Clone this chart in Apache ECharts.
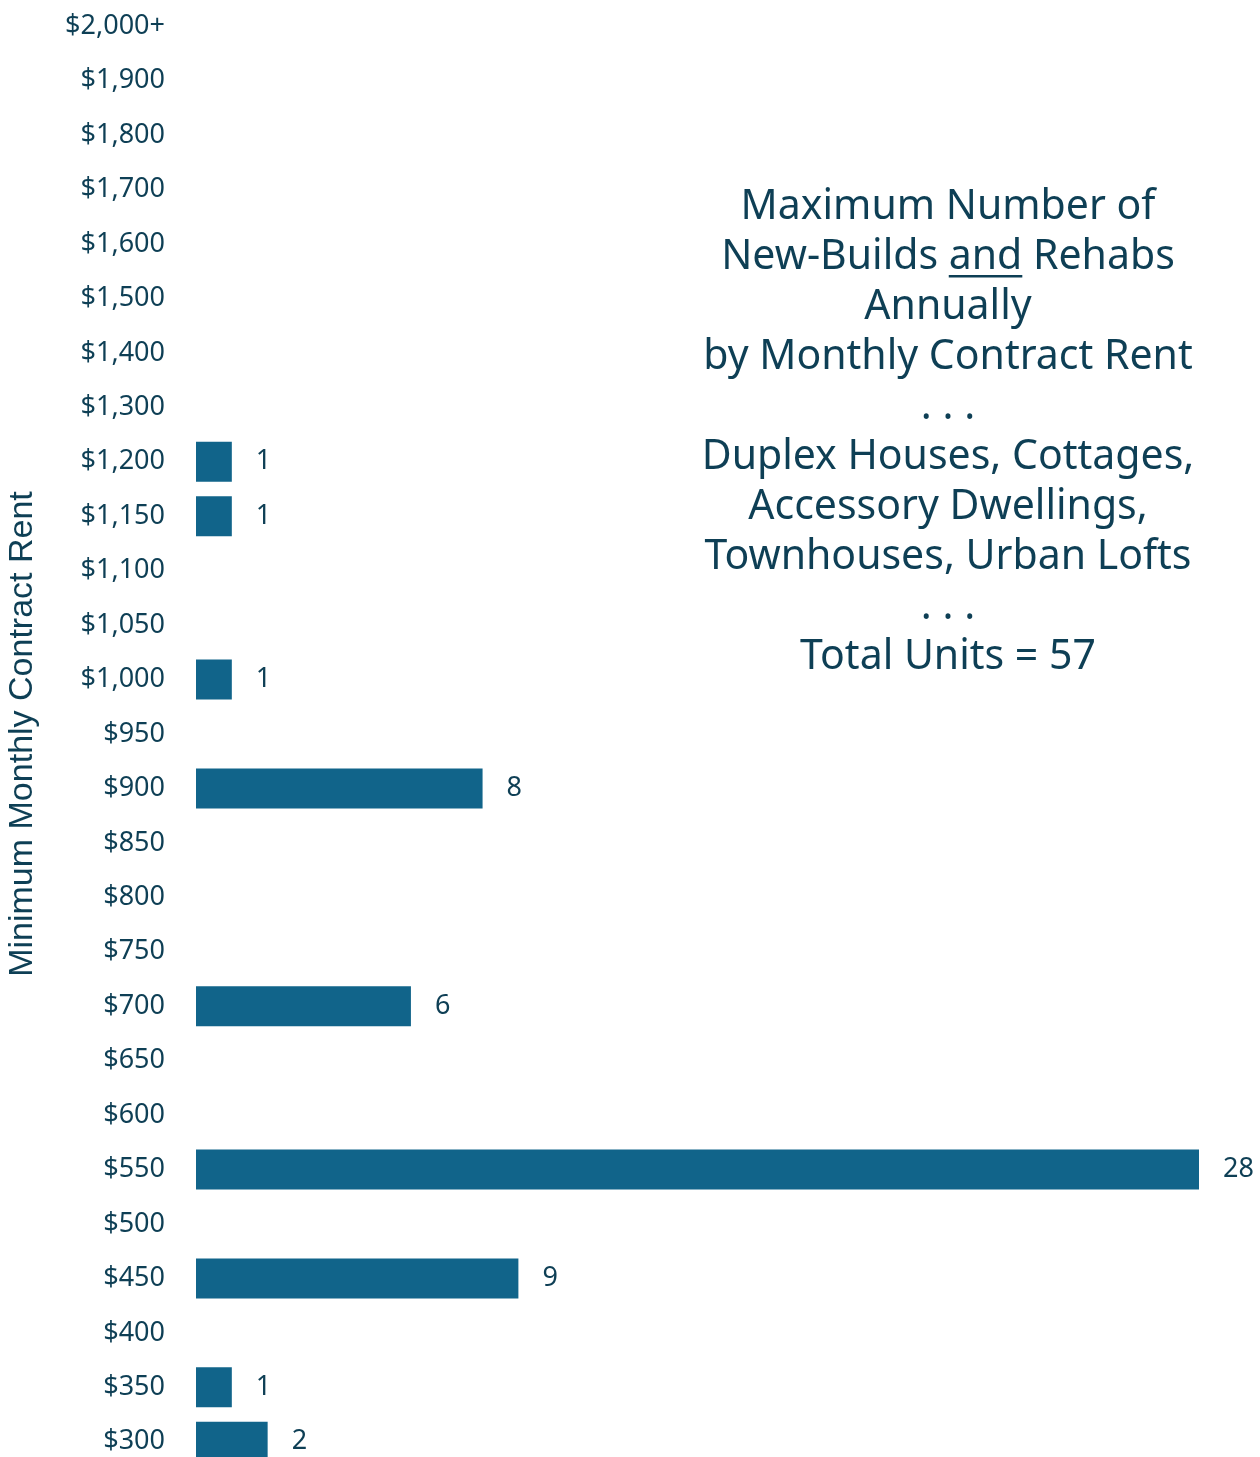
<!DOCTYPE html>
<html>
<head>
<meta charset="utf-8">
<script src="https://cdn.jsdelivr.net/npm/echarts@6/dist/echarts.min.js"></script>
<style>
  html, body { margin: 0; padding: 0; background: #fff; overflow: hidden; }
  #main { width: 1260px; height: 1470px; margin-top: -1px; }
</style>
</head>
<body>
<div id="main"></div>
<script>
// rent brackets, bottom to top
const rents = ['$300', '$350', '$400', '$450', '$500', '$550', '$600', '$650', '$700', '$750',
  '$800', '$850', '$900', '$950', '$1,000', '$1,050', '$1,100', '$1,150', '$1,200',
  '$1,300', '$1,400', '$1,500', '$1,600', '$1,700', '$1,800', '$1,900', '$2,000+']
// units per bracket (null = none)
const units = [2, 1, null, 9, null, 28, null, null, 6, null,
  null, null, 8, null, 1, null, null, 1, 1,
  null, null, null, null, null, null, null, null]

const titleLines = [
  'Maximum Number of',
  'New-Builds {u|and} Rehabs',
  'Annually',
  'by Monthly Contract Rent',
  '. . .',
  'Duplex Houses, Cottages,',
  'Accessory Dwellings,',
  'Townhouses, Urban Lofts',
  '. . .',
  'Total Units = 57'
]

const textColor = '#0e3f55'
const barColor = '#11648a'
const font = 'Noto Sans'

const myChart = echarts.init(document.getElementById('main'))

// underline for "and" - measure text widths
const titleSize = 41
const lineH = 50
const titleTop = 183 // in chart coords
const ctx = document.createElement('canvas').getContext('2d')
ctx.font = titleSize + 'px "' + font + '"'
const pre = ctx.measureText('New-Builds ').width
const andW = ctx.measureText('and').width
const fullW = ctx.measureText('New-Builds and Rehabs').width
const titleCx = 948
const underX = titleCx - fullW / 2 + pre

const option = {
  textStyle: { fontFamily: font, color: textColor },
  grid: { left: 196, right: 61, top: 0, bottom: 0, outerBoundsMode: 'none', containLabel: false },
  xAxis: {
    type: 'value',
    min: 0,
    max: 28,
    show: false
  },
  yAxis: {
    type: 'category',
    data: rents,
    axisLine: { show: false },
    axisTick: { show: false },
    axisLabel: { color: textColor, fontSize: 27, fontFamily: font, margin: 31 },
    name: 'Minimum Monthly Contract Rent',
    nameLocation: 'middle',
    nameGap: 156,
    nameTextStyle: { color: textColor, fontSize: 34, fontFamily: 'Liberation Sans' }
  },
  series: [
    {
      type: 'bar',
      data: units,
      barWidth: 40,
      itemStyle: { color: barColor },
      label: {
        show: true,
        position: 'right',
        distance: 24,
        color: textColor,
        fontSize: 27,
        fontFamily: font
      }
    }
  ],
  title: {
    text: titleLines.join('\n'),
    left: titleCx,
    top: titleTop,
    padding: 0,
    textAlign: 'center',
    textStyle: {
      color: textColor,
      fontSize: titleSize,
      fontWeight: 'normal',
      fontFamily: font,
      lineHeight: lineH,
      rich: {
        u: { color: textColor, fontSize: titleSize, fontFamily: font, lineHeight: lineH }
      }
    }
  },
  graphic: [
    {
      type: 'rect',
      shape: { x: underX, y: titleTop + lineH * 1.5 + 18, width: andW, height: 2.5 },
      style: { fill: textColor }
    }
  ]
}
myChart.setOption(option)
</script>
</body>
</html>
